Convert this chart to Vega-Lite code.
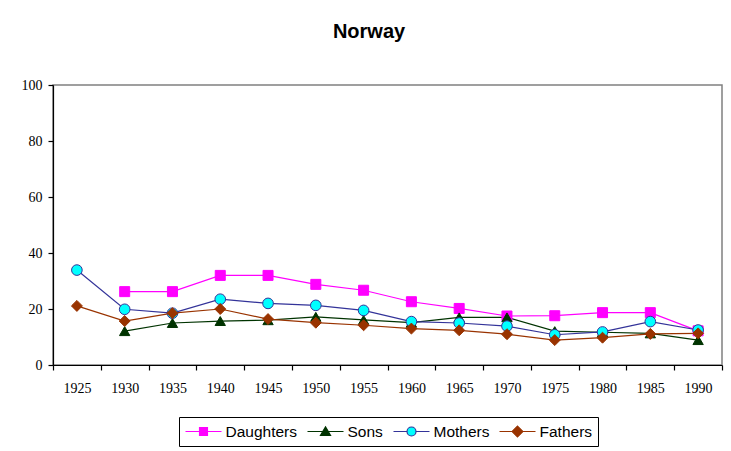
{
  "$schema": "https://vega.github.io/schema/vega-lite/v6.json",
  "width": 669,
  "height": 280,
  "autosize": {"type": "none"},
  "padding": {"left": 53, "top": 85, "right": 9, "bottom": 86},
  "background": "white",
  "title": {
    "text": "Norway",
    "font": "Liberation Sans",
    "fontSize": 20,
    "fontWeight": "bold",
    "color": "black",
    "anchor": "middle",
    "dx": -18.5,
    "offset": 36
  },
  "config": {
    "view": {"stroke": "#808080", "strokeWidth": 1.5},
    "axis": {
      "labelFont": "Liberation Serif",
      "labelFontSize": 14,
      "labelColor": "black",
      "domainColor": "black",
      "tickColor": "black",
      "domainWidth": 1.2,
      "tickWidth": 1.2,
      "grid": false,
      "title": null
    }
  },
  "data": {
    "values": [
      {"year": "1930", "series": "Daughters", "value": 26.2},
      {"year": "1935", "series": "Daughters", "value": 26.2},
      {"year": "1940", "series": "Daughters", "value": 32.0},
      {"year": "1945", "series": "Daughters", "value": 32.0},
      {"year": "1950", "series": "Daughters", "value": 28.8},
      {"year": "1955", "series": "Daughters", "value": 26.7},
      {"year": "1960", "series": "Daughters", "value": 22.6},
      {"year": "1965", "series": "Daughters", "value": 20.2},
      {"year": "1970", "series": "Daughters", "value": 17.5},
      {"year": "1975", "series": "Daughters", "value": 17.6},
      {"year": "1980", "series": "Daughters", "value": 18.7},
      {"year": "1985", "series": "Daughters", "value": 18.7},
      {"year": "1990", "series": "Daughters", "value": 12.2},
      {"year": "1930", "series": "Sons", "value": 12.1},
      {"year": "1935", "series": "Sons", "value": 15.0},
      {"year": "1940", "series": "Sons", "value": 15.7},
      {"year": "1945", "series": "Sons", "value": 16.0},
      {"year": "1950", "series": "Sons", "value": 17.2},
      {"year": "1955", "series": "Sons", "value": 16.1},
      {"year": "1960", "series": "Sons", "value": 15.1},
      {"year": "1965", "series": "Sons", "value": 17.0},
      {"year": "1970", "series": "Sons", "value": 17.0},
      {"year": "1975", "series": "Sons", "value": 12.1},
      {"year": "1980", "series": "Sons", "value": 11.7},
      {"year": "1985", "series": "Sons", "value": 11.3},
      {"year": "1990", "series": "Sons", "value": 8.9},
      {"year": "1925", "series": "Mothers", "value": 33.9},
      {"year": "1930", "series": "Mothers", "value": 19.9},
      {"year": "1935", "series": "Mothers", "value": 18.5},
      {"year": "1940", "series": "Mothers", "value": 23.5},
      {"year": "1945", "series": "Mothers", "value": 22.0},
      {"year": "1950", "series": "Mothers", "value": 21.3},
      {"year": "1955", "series": "Mothers", "value": 19.5},
      {"year": "1960", "series": "Mothers", "value": 15.5},
      {"year": "1965", "series": "Mothers", "value": 15.0},
      {"year": "1970", "series": "Mothers", "value": 13.9},
      {"year": "1975", "series": "Mothers", "value": 10.8},
      {"year": "1980", "series": "Mothers", "value": 11.8},
      {"year": "1985", "series": "Mothers", "value": 15.5},
      {"year": "1990", "series": "Mothers", "value": 12.5},
      {"year": "1925", "series": "Fathers", "value": 21.1},
      {"year": "1930", "series": "Fathers", "value": 15.7},
      {"year": "1935", "series": "Fathers", "value": 18.5},
      {"year": "1940", "series": "Fathers", "value": 20.0},
      {"year": "1945", "series": "Fathers", "value": 16.4},
      {"year": "1950", "series": "Fathers", "value": 15.1},
      {"year": "1955", "series": "Fathers", "value": 14.2},
      {"year": "1960", "series": "Fathers", "value": 13.0},
      {"year": "1965", "series": "Fathers", "value": 12.4},
      {"year": "1970", "series": "Fathers", "value": 11.0},
      {"year": "1975", "series": "Fathers", "value": 8.9},
      {"year": "1980", "series": "Fathers", "value": 9.75},
      {"year": "1985", "series": "Fathers", "value": 11.1},
      {"year": "1990", "series": "Fathers", "value": 11.3}
    ]
  },
  "encoding": {
    "x": {
      "field": "year",
      "type": "ordinal",
      "bandPosition": 0.5,
      "scale": {"type": "band", "paddingInner": 0, "paddingOuter": 0, "domain": ["1925","1930","1935","1940","1945","1950","1955","1960","1965","1970","1975","1980","1985","1990"]},
      "axis": {"labelAngle": 0, "tickBand": "extent", "tickSize": 5, "labelPadding": 11}
    },
    "y": {
      "field": "value",
      "type": "quantitative",
      "scale": {"domain": [0, 100], "nice": false},
      "axis": {"values": [0, 20, 40, 60, 80, 100], "tickSize": 5, "labelPadding": 6}
    }
  },
  "layer": [
    {
      "mark": {"type": "line", "strokeWidth": 1.2},
      "encoding": {
        "color": {
          "field": "series",
          "type": "nominal",
          "scale": {
            "domain": ["Daughters", "Sons", "Mothers", "Fathers"],
            "range": ["#FF00FF", "#003300", "#333399", "#993300"]
          },
          "legend": {
            "title": null,
            "orient": "none",
            "direction": "horizontal",
            "legendX": 126,
            "legendY": 332,
            "strokeColor": "black",
            "fillColor": "white",
            "padding": 5.5,
            "clipHeight": 18,
            "symbolSize": 1296,
            "symbolStrokeWidth": 1.2,
            "labelOffset": 3,
            "columnPadding": 9,
            "labelFont": "Liberation Sans",
            "labelFontSize": 15.5,
            "labelColor": "black",
            "encode": {
              "symbols": {
                "update": {
                  "shape": {"signal": "datum.value === 'Daughters' ? 'M-1,0H1M-0.22,-0.22H0.22V0.22H-0.22Z' : datum.value === 'Sons' ? 'M-1,0H1M0,-0.26L0.28,0.22H-0.28Z' : datum.value === 'Mothers' ? 'M-1,0H-0.25M0.25,0H1M0.25,0A0.25,0.25 0 1,1 -0.25,0A0.25,0.25 0 1,1 0.25,0Z' : 'M-1,0H1M0,-0.3L0.3,0L0,0.3L-0.3,0Z'"},
                  "fill": {"signal": "datum.value === 'Daughters' ? '#FF00FF' : datum.value === 'Sons' ? '#003300' : datum.value === 'Mothers' ? '#00FFFF' : '#993300'"},
                  "stroke": {"signal": "datum.value === 'Daughters' ? '#FF00FF' : datum.value === 'Sons' ? '#003300' : datum.value === 'Mothers' ? '#333399' : '#993300'"},
                  "size": {"value": 1296},
                  "opacity": {"value": 1},
                  "fillOpacity": {"value": 1},
                  "strokeWidth": {"value": 1.2}
                }
              }
            }
          }
        }
      }
    },
    {
      "mark": {"type": "point", "filled": true, "opacity": 1, "strokeWidth": 1},
      "encoding": {
        "shape": {
          "field": "series",
          "type": "nominal",
          "scale": {
            "domain": ["Fathers", "Mothers", "Sons", "Daughters"],
            "range": ["diamond", "circle", "triangle-up", "square"]
          },
          "legend": null
        },
        "fill": {
          "field": "series",
          "type": "nominal",
          "scale": {
            "domain": ["Fathers", "Mothers", "Sons", "Daughters"],
            "range": ["#993300", "#00FFFF", "#003300", "#FF00FF"]
          },
          "legend": null
        },
        "stroke": {
          "field": "series",
          "type": "nominal",
          "scale": {
            "domain": ["Fathers", "Mothers", "Sons", "Daughters"],
            "range": ["#993300", "#333399", "#003300", "#FF00FF"]
          },
          "legend": null
        },
        "size": {
          "field": "series",
          "type": "nominal",
          "scale": {
            "domain": ["Fathers", "Mothers", "Sons", "Daughters"],
            "range": [120, 100, 120, 95]
          },
          "legend": null
        }
      }
    }
  ]
}
